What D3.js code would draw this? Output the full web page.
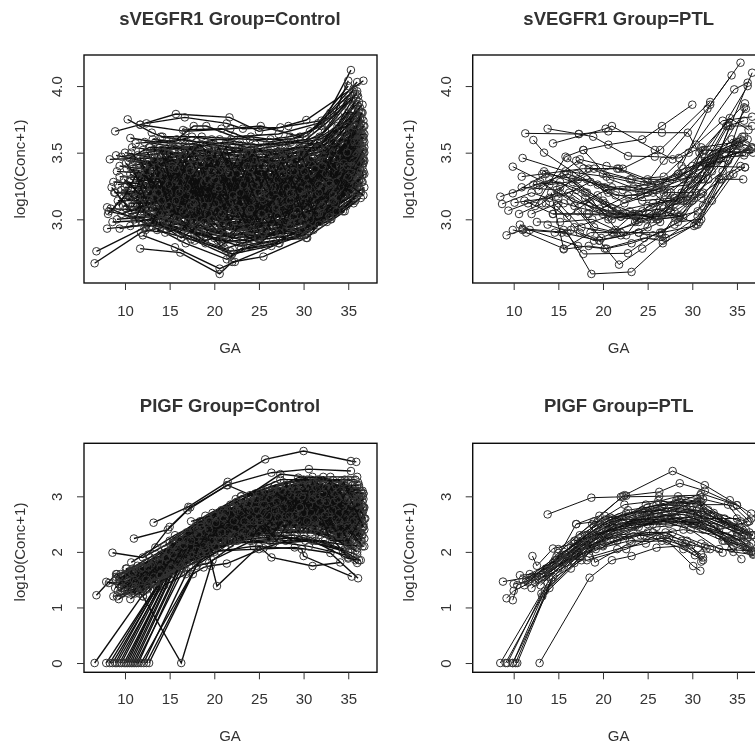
<!DOCTYPE html>
<html>
<head>
<meta charset="utf-8">
<script src="https://cdn.jsdelivr.net/npm/d3@7"></script>
<style>
    html, body {margin: 0; padding: 0; background: #fff; overflow: hidden;}
    text {font-family: "Liberation Sans", Arial, sans-serif; fill: #333;}
</style>
</head>
<body>
<div id="chart"></div>
<script>
// every subject is one flat list: GA, log10(conc+1), GA, log10(conc+1), ...
const sVegfrControl = [
    [6.6,2.67,11.8,2.9,16.5,2.98,21,2.82,26,2.88,31,3.05,35.4,3.32],
    [6.8,2.76,12.2,2.94,17,3.02,22,2.98,27,3.02,32,3.14,36,3.45],
    [11.7,2.78,16.2,2.75,20.6,2.59,22,2.68,25.5,2.72,30.3,2.86,34.6,3.06],
    [12,2.88,15.6,2.79,20.6,2.63,22.3,2.68,27.3,2.82,33.1,3,36.2,3.2],
    [8,3.09,13,2.95,16.8,2.82,21.4,2.7,24,2.8,29.8,2.88,35.2,3.18],
    [8.2,3.06,13.5,2.98,17.4,2.85,21.8,2.76,25.6,2.8,30.2,2.9,35.8,3.14],
    [8,2.93,12.4,2.96,18,2.9,22.8,2.8,26.6,2.84,30.4,2.86,36.6,3.34],
    [9.4,2.93,14,2.98,18.6,2.88,23.2,2.82,27.5,2.9,31.6,2.98,36.4,3.2],
    [9.1,3,13.2,3.02,18.2,2.94,23.8,2.86,28.2,2.92,32.4,3.06,36.5,3.28],
    [8.6,2.98,14.6,3,19.2,2.9,24.6,2.88,29.6,2.9,33.6,3.1,35.5,3.24],
    [10.6,2.95,15,2.96,20,2.86,24.2,2.9,28.8,2.94,32.8,3.1,36.6,3.33],
    [10.2,3.08,15.4,3,20.4,2.92,25.2,2.94,29.2,3,33.2,3.16,36.1,3.26],
    [11,3.02,16,3.04,19.6,2.96,24.8,2.98,30,2.96,34,3.16,36.3,3.38],
    [8.4,3.08,13.8,3.06,19,3.02,23.6,2.92,28.6,3,32.2,3.12,35.6,3.3],
    [9.8,3.1,14.2,3.08,18.4,3.04,22.6,2.94,27,2.96,31.4,3.08,36,3.36],
    [10.4,3.04,15.8,3.1,20.8,3,25.8,3,30.6,3.06,34.4,3.2,36.7,3.44],
    [11.4,3.1,16.6,3.06,21.2,3.02,26.4,3.02,31.2,3.1,35,3.3,36.2,3.34],
    [12.4,3.06,17.2,3.12,22.4,3.04,27.2,3.06,31.8,3.14,35.4,3.38],
    [9.2,3.14,14.8,3.14,19.4,3.08,24.4,3.02,29,3.08,33.4,3.24,36.4,3.48],
    [10.8,3.18,16.2,3.1,21,3.06,25.4,3.08,30.4,3.12,34.2,3.28,36.8,3.5],
    [8.8,3.2,13.4,3.18,18.8,3.12,23.4,3.06,28.4,3.12,32.6,3.22,35.9,3.42],
    [11.2,3.16,15.2,3.2,20.2,3.12,25,3.1,29.4,3.18,33.8,3.3,36,3.54],
    [9.6,3.22,14.4,3.16,19.8,3.1,24,3.12,28,3.14,32,3.26,36.5,3.46],
    [8.9,3.2,12.8,3.22,17.6,3.18,22.2,3.1,26.8,3.1,31,3.22,35.7,3.5],
    [10,3.24,15.6,3.22,20.6,3.16,25.6,3.12,30.8,3.18,34.6,3.34,36.6,3.58],
    [11.6,3.26,16.4,3.18,21.6,3.14,26.2,3.14,31.4,3.22,35.2,3.42,36.7,3.62],
    [12.6,3.2,17.8,3.24,22.8,3.16,27.8,3.16,32.4,3.26,36,3.52],
    [8.7,3.28,13,3.26,18,3.2,23,3.18,27.6,3.2,31.6,3.3,36.2,3.6],
    [10.6,3.3,14.6,3.28,19.2,3.24,24.2,3.16,29.2,3.2,33,3.36,36.3,3.56],
    [9.4,3.32,15,3.3,20,3.22,24.6,3.2,28.8,3.24,32.8,3.32,35.6,3.56],
    [11,3.34,16,3.26,21,3.2,26,3.22,30,3.26,34,3.44,36.8,3.7],
    [9.1,3.36,13.6,3.34,18.6,3.28,23.6,3.22,28.2,3.28,32.2,3.4,36,3.66],
    [10.2,3.38,15.4,3.32,20.4,3.28,25.4,3.26,29.8,3.3,33.6,3.46,36.4,3.72],
    [9.4,3.4,14,3.36,19,3.32,24,3.26,28.6,3.32,32.6,3.44,35.8,3.62],
    [11.8,3.36,16.8,3.38,21.8,3.3,26.6,3.28,30.6,3.34,34.4,3.52,36.6,3.66],
    [12.2,3.42,17,3.34,22,3.32,27,3.3,31,3.36,35,3.56,36.5,3.76],
    [9,3.48,13.2,3.42,18.2,3.36,23.2,3.34,28,3.32,32,3.46,35.6,3.7],
    [10.4,3.44,15,3.4,19.6,3.38,24.8,3.32,29.4,3.38,33.2,3.5,36.2,3.82],
    [8.3,3.45,12.6,3.46,17.4,3.42,22.4,3.36,27.4,3.36,31.2,3.42,36.7,3.74],
    [10,3.5,14.8,3.44,19.8,3.4,25,3.38,30.2,3.4,34.2,3.58,36,3.86],
    [11.4,3.48,16.2,3.5,21.2,3.42,25.8,3.4,30,3.46,33.8,3.62,35.9,3.9],
    [9.6,3.47,14.2,3.52,18.8,3.44,23.8,3.42,28.8,3.44,32.8,3.6,36.1,3.92],
    [10.8,3.54,15.6,3.5,20.8,3.46,25.2,3.44,29.6,3.48,33.4,3.64,35.7,3.86],
    [12,3.52,17.6,3.54,22.6,3.48,27.2,3.46,31.6,3.5,35.2,3.76,36.6,3.86],
    [10.6,3.61,13.4,3.58,18.4,3.56,23.4,3.5,28.4,3.52,32.4,3.66,35.8,3.94],
    [11.2,3.57,16.6,3.6,21.4,3.54,26.2,3.5,30.8,3.56,34.6,3.8,36.4,3.8],
    [14,3.62,18,3.58,22.8,3.56,27.6,3.56,31.8,3.62,35,3.9,36,3.94],
    [10.3,3.75,13,3.65,14.2,3.62,18.6,3.62,23.6,3.6,28.6,3.6,32,3.7,35.3,4.12],
    [8.9,3.66,11.7,3.71,16.8,3.66,21.8,3.68,25.2,3.7,29.6,3.62,33.4,3.78,35,4.04],
    [11.7,3.71,15.7,3.79,21.7,3.765,25,3.66,28.3,3.7,32,3.74,36,4.03],
    [12.4,3.72,16.7,3.765,21.4,3.72,23.2,3.68,27.4,3.69,30.3,3.745,36.7,4.04],
    [15.8,3.6,17.7,3.7,19.1,3.7,22.2,3.62,27.2,3.64,31.6,3.72,35,4],
    [16.5,3.67,20.8,3.68,24,3.6,26.2,3.58,30.2,3.62,34.4,3.86,35.6,3.98],
    [13.2,3.52,18,3.48,22.2,3.44,26.8,3.44,31.2,3.46,34.8,3.6,36.7,3.7],
    [12.8,3.38,17.2,3.44,21.6,3.36,26.4,3.36,30.4,3.42,34,3.54,36.8,3.58],
    [13.6,3.46,18.6,3.42,23,3.4,28.2,3.4,32.2,3.52,35.8,3.76],
    [12.2,3.3,16.4,3.36,20.6,3.34,25,3.3,29,3.36,33,3.42,36.5,3.64],
    [11,3.44,15.2,3.34,19.4,3.3,23.4,3.3,27.8,3.26,32,3.34,35.4,3.6],
    [13,3.14,17.4,3.28,22.2,3.26,26.6,3.24,31,3.3,34.8,3.48,36.6,3.52],
    [12.4,3.24,17,3.16,21.4,3.24,25.8,3.18,30.2,3.22,33.8,3.38,36.3,3.48],
    [13.8,3.28,18.2,3.22,23.2,3.12,27.6,3.14,31.8,3.2,35.2,3.34,36.7,3.42],
    [11.6,3.2,16.2,3.26,21,3.18,25.2,3.16,29.4,3.14,33,3.24,36.1,3.4],
    [12,3.12,16.8,3.14,20.8,3.06,24.6,3.06,28.4,3.08,32.2,3.18,35.8,3.36],
    [13.4,3.16,18.4,3.08,22.6,3.08,27,3.1,30.8,3.04,34.6,3.22,36.4,3.3],
    [10.4,3.12,14.4,3.12,18.8,3,22.8,3,26.6,3.04,30.4,3.02,34.2,3.12,36.8,3.24],
    [11.8,3.06,15.8,2.96,19.6,2.92,23.6,2.96,27.8,2.98,31.6,3.02,35,3.2],
    [12.6,3,16.4,2.92,20.4,2.84,24.4,2.84,28.6,2.88,32.6,2.98,35.6,3.12],
    [13,2.98,17,2.88,21.2,2.78,25,2.86,29,2.92,33.4,3.06,36,3.18],
    [14.2,3.02,18.2,2.9,22.4,2.86,26.2,2.9,30.6,2.94,34.4,3.14,36.6,3.28],
    [13.6,2.92,17.8,2.84,21.8,2.72,23,2.78,27.2,2.82,30,2.88,33,3.02,35.5,3.14],
    [15,2.94,19,2.82,22,2.74,26.4,2.8,28.8,2.9,31.8,2.98,36,3.24],
    [14.6,3.06,19.6,3.02,23.8,2.94,28,2.96,32,3.08,35.2,3.2,36.7,3.36],
    [15.4,3.18,19.8,3.16,24.2,3.06,28.4,3.08,32.4,3.2,35.4,3.46,36.4,3.42],
    [14.8,3.24,19.2,3.2,24.4,3.14,28.6,3.18,32.8,3.28,35.6,3.44,36.8,3.54],
    [15.6,3.12,20,3.1,24.8,3.08,29,3.06,33,3.18,36,3.3],
    [14.4,3.4,19,3.34,23.6,3.28,27.4,3.34,31.4,3.4,34.8,3.66,36.6,3.8],
    [15.2,3.56,19.4,3.5,24,3.48,28,3.5,32,3.58,35,3.8,36.2,3.88],
    [13.8,3.44,18.8,3.52,23.4,3.46,27.8,3.42,31.8,3.54,35.4,3.68,36.7,3.6],
    [14.6,3.3,18.6,3.3,23,3.24,27.2,3.2,31.2,3.28,34.6,3.4,36,3.48],
    [16.2,3.44,20.6,3.4,25,3.34,29,3.34,32.8,3.38,35.8,3.58],
    [16,3.04,20.2,3,24.6,2.96,28.6,3.02,32.6,3.1,35.8,3.26,36.8,3.34],
    [16.6,3.3,21,3.26,25.6,3.24,29.8,3.24,33.6,3.34,36.2,3.52],
    [17,3.1,21.4,2.96,25.8,2.92,29.6,2.96,33.2,3.08,36.4,3.22],
    [17.4,3.52,21.8,3.5,26,3.52,30,3.54,33.8,3.7,36,3.78],
    [10.2,3.26,14,3.22,17.6,3.12,21.6,3.08,25.4,3.04,29.2,3.1,33,3.2,35.6,3.4],
    [9.8,3.16,13.6,3.1,17.2,3.06,21,2.94,24.8,2.9,28.6,2.96,32.2,3.04,35.2,3.28],
    [10.8,3.4,14.6,3.46,18.4,3.5,22.4,3.42,26.2,3.46,30,3.52,33.6,3.56,36.2,3.72],
    [11.4,3.32,15.2,3.36,19,3.26,23,3.2,26.8,3.26,30.6,3.36,34,3.46,36.5,3.68],
    [12.8,3.54,16.6,3.46,20.4,3.52,24.4,3.54,28.2,3.46,32,3.44,35.2,3.66],
    [13.2,3.36,17,3.3,20.8,3.2,24.6,3.24,28.4,3.22,32.2,3.32,35.6,3.52],
    [12,3.18,15.8,3.08,19.8,3.14,23.8,3.04,27.6,3.12,31.4,3.18,35,3.38,36.7,3.5],
    [11.2,2.98,15.4,3.04,19.2,2.98,23.2,2.9,27.2,2.94,31,2.98,34.8,3.1,36.3,3.22],
    [13.4,3.08,17.6,3,21.4,3.04,25.4,2.96,29.2,3.02,33,3,35.8,3.16],
    [10,3.2,14.2,3.04,18.2,3.1,22.2,3.12,26.4,3.06,30.2,3.16,34,3.26,36.4,3.44],
    [10.6,3.34,14.8,3.18,19,3.16,23.2,3.22,27.4,3.18,31.4,3.26,35.2,3.5],
    [9.2,3.26,13,3.3,17.2,3.34,21.2,3.28,25.4,3.36,29.6,3.4,33.4,3.42,36.1,3.6],
    [9.6,3.04,13.4,3.14,17.6,3.2,21.6,3.18,25.8,3.26,30,3.24,33.8,3.36,36.6,3.4],
    [11.6,3.42,15.6,3.42,19.6,3.46,23.6,3.38,27.8,3.5,31.6,3.48,35,3.62,36.8,3.64],
    [12.2,3.58,16,3.54,20,3.56,24,3.52,28,3.56,31.8,3.6,35.4,3.74],
    [13,3.48,16.8,3.56,20.6,3.6,24.6,3.56,28.6,3.58,32.4,3.56,35.6,3.8],
    // more subjects, crossing through the dark band
    [10.9,3.1,13.1,3.28,15.3,3.06,17.5,3.24,19.7,3.04,21.9,3.2,24.1,3,26.3,3.18,28.5,3.04,30.7,3.2,33,3.22,35.3,3.44],
    [11.3,3.46,13.5,3.2,15.7,3.44,17.9,3.18,20.1,3.4,22.3,3.14,24.5,3.36,26.7,3.12,28.9,3.3,31.1,3.12,33.3,3.4,35.7,3.48],
    [10.5,3.28,12.7,3.08,14.9,3.32,17.1,3.02,19.3,3.26,21.5,3,23.7,3.22,25.9,2.98,28.1,3.16,30.3,3,32.6,3.3,35.9,3.38],
    [12.1,3.4,14.3,3.12,16.5,3.38,18.7,3.14,20.9,3.34,23.1,3.06,25.3,3.3,27.5,3.04,29.7,3.34,31.9,3.16,34.1,3.46,36.4,3.64],
    [11.9,2.98,14.1,3.26,16.3,3,18.5,3.3,20.7,2.98,22.9,3.26,25.1,2.94,27.3,3.28,29.5,3.02,31.7,3.36,33.9,3.24,36.2,3.5],
    [12.5,3.5,14.7,3.26,16.9,3.52,19.1,3.22,21.3,3.46,23.5,3.16,25.7,3.44,27.9,3.22,30.1,3.46,32.3,3.24,34.5,3.56,36.5,3.54],
    [10.7,3.5,12.9,3.34,15.1,3.12,17.3,3.46,19.5,3.12,21.7,3.42,23.9,3.1,26.1,3.4,28.3,3.08,30.5,3.44,32.7,3.14,35.1,3.54],
    [11.5,3.08,13.7,3.4,15.9,3.2,18.1,3.04,20.3,3.3,22.5,3.02,24.7,3.28,26.9,2.96,29.1,3.2,31.3,3.06,33.5,3.3,35.5,3.3],
    [12.3,3.14,14.5,3.44,16.7,3.1,18.9,3.44,21.1,3.1,23.3,3.42,25.5,3.08,27.7,3.42,29.9,3.12,32.1,3.48,34.3,3.34,36.3,3.76],
    [13.1,3.34,15.3,3.5,17.5,3.32,19.7,3.54,21.9,3.24,24.1,3.46,26.3,3.2,28.5,3.46,30.7,3.28,32.9,3.5,35.1,3.48],
    [13.5,3.02,15.7,3.22,17.9,2.96,20.1,3.2,22.3,2.92,24.5,3.16,26.7,2.88,28.9,3.12,31.1,2.92,33.3,3.22,35.3,3.22],
    [13.9,3.54,16.1,3.4,18.3,3.56,20.5,3.44,22.7,3.54,24.9,3.42,27.1,3.54,29.3,3.42,31.5,3.58,33.7,3.48,36,3.7],
    [14.3,3.1,16.5,3.3,18.7,3.08,20.9,2.9,23.1,3.12,25.3,2.88,27.5,3.08,29.7,2.96,31.9,3.12,34.1,3.3,36.6,3.42],
    [14.7,3.36,16.9,3.08,19.1,3.36,21.3,3.14,23.5,3.32,25.7,3.16,27.9,3.3,30.1,3.08,32.3,3.34,34.5,3.28,36.7,3.46],
    [15.1,3.48,17.3,3.16,19.5,3.5,21.7,3.26,23.9,3.5,26.1,3.3,28.3,3.48,30.5,3.3,32.7,3.5,35,3.42],
    [10.1,3.42,12.3,3.24,14.5,3.5,16.7,3.22,18.9,3.18,21.1,3.5,23.3,3.04,25.5,3.26,27.7,3.38,29.9,3.16,32.1,3.1,34.7,3.3,36.2,3.28],
    [10.3,3.14,12.5,3.36,14.7,3.08,16.9,3.42,19.1,3.06,21.3,3.08,23.5,3.36,25.7,3.34,27.9,3.06,30.1,3.26,32.3,3.38,34.9,3.6],
    [11.1,3.22,13.3,3.46,15.5,3.28,17.7,3.08,19.9,3.34,22.1,3.42,24.3,3.14,26.5,3.06,28.7,3.4,30.9,3.36,33.1,3.28,35.5,3.54],
    [11.7,3.3,13.9,3.04,16.1,3.16,18.3,3.36,20.5,3.08,22.7,3.28,24.9,3.4,27.1,3.24,29.3,3.12,31.5,3.14,33.7,3.46,36.1,3.68],
    [12.9,3.24,15.1,3.02,17.3,3.26,19.5,2.94,21.7,3.12,23.9,3.34,26.1,3.1,28.3,3.26,30.5,3.18,32.7,3.2,35,3.28,36.8,3.44],
    [13.3,3.12,15.5,3.36,17.7,3.04,19.9,3.28,22.1,3.22,24.3,3.24,26.5,3.34,28.7,3.1,30.9,3.42,33.1,3.36,35.4,3.54],
    [15.5,3.28,17.7,3.4,19.9,3.18,22.1,3.36,24.3,3.18,26.5,3.12,28.7,3.3,30.9,3.16,33.1,3.14,35.6,3.34],
    [15.9,3.14,18.1,3.18,20.3,3.42,22.5,3.22,24.7,3.12,26.9,3.32,29.1,3.44,31.3,3.26,33.5,3.54,35.8,3.64],
    [16.3,3.52,18.5,3.24,20.7,3.14,22.9,3.42,25.1,3.52,27.3,3.38,29.5,3.22,31.7,3.42,33.9,3.62,36.3,3.84],
    [9.9,3.3,12.1,3.16,14.3,3.24,16.5,3.12,18.7,3.26,20.9,3.22,23.1,3.28,25.3,3.18,27.5,3.28,29.7,3.22,31.9,3.28,34.2,3.38,36.5,3.5],
    [9.3,3.1,11.5,3.36,13.7,3.24,15.9,3.34,18.1,3.12,20.3,3.06,22.5,3.2,24.7,3.1,26.9,3.04,29.1,3.28,31.3,3.3,33.5,3.2,36,3.6],
    [8.5,3.24,10.7,3.06,12.9,3.12,15.1,3.28,17.3,2.96,19.5,3.08,21.7,2.86,23.9,3.02,26.1,3.12,28.3,2.94,30.5,3.12,32.8,3.26,35.7,3.6],
    [8.1,3.04,10.3,3.2,12.5,3.04,14.7,2.92,16.9,3.18,19.1,2.92,21.3,2.88,23.5,2.96,25.7,3,27.9,3.06,30.1,2.98,32.4,3.02,35.4,3.26],
    [12.7,2.94,14.9,3.2,17.1,3.4,19.3,3.4,21.5,3.36,23.7,3.44,25.9,3.26,28.1,3.04,30.3,3.1,32.5,3.42,35.2,3.58],
    [14.9,3.16,17.1,2.98,19.3,3.18,21.5,3.44,23.7,2.98,25.9,3.06,28.1,3.36,30.3,3.48,32.5,3.52,34.9,3.7],
    [13.7,3.3,15.9,3.46,18.1,3.28,20.3,3.5,22.5,3.4,24.7,3.46,26.9,3.4,29.1,3.5,31.3,3.52,33.5,3.66,36.1,3.74],
    [11.9,3.44,14.1,3.42,16.3,3.46,18.5,3.48,20.7,3.48,22.9,3.52,25.1,3.46,27.3,3.5,29.5,3.54,31.7,3.54,33.9,3.72,36,3.96],
    [10.5,3.46,12.7,3.54,14.9,3.54,17.1,3.52,19.3,3.56,21.5,3.58,23.7,3.54,25.9,3.56,28.1,3.58,30.3,3.6,32.5,3.72,35.3,3.9],
    [13.1,3.6,15.3,3.58,17.5,3.62,19.7,3.6,21.9,3.6,24.1,3.62,26.3,3.6,28.5,3.62,30.7,3.66,33,3.8,35.5,3.96],
    [12.3,2.92,14.5,2.9,16.7,2.94,18.9,2.84,21.1,2.88,23.3,2.84,25.5,2.9,27.7,2.86,29.9,2.92,32.1,3.04,34.4,3.06,36.4,3.16],
    [14.1,2.96,16.3,2.86,18.5,2.96,20.7,2.8,22.9,2.9,25.1,2.82,27.3,2.94,29.5,2.88,31.7,3.04,33.9,3.16,36.2,3.3],
    [15.3,3.06,17.5,2.92,19.7,3.06,21.9,2.94,24.1,2.96,26.3,2.98,28.5,2.94,30.7,3,32.9,3.02,35.1,3.26,36.7,3.18],
    [16.1,2.9,18.3,3.06,20.5,2.9,22.7,3.06,24.9,2.86,27.1,3.02,29.3,3.1,31.5,3.04,33.7,3.12,36,3.42],
    [11.3,3.16,12.9,3.42,14.6,3.18,16.2,3.44,17.8,3.2,19.4,3.46,21,3.24,22.6,3.46,24.2,3.22,25.8,3.48,27.4,3.2,29,3.44,30.6,3.2,32.2,3.44,33.8,3.34,35.4,3.68],
    [11.7,3.46,13.3,3.16,14.9,3.38,16.5,3.06,18.1,3.34,19.7,3,21.3,3.3,22.9,2.98,24.5,3.26,26.1,2.94,27.7,3.24,29.3,2.98,30.9,3.3,32.5,3.12,34.1,3.4,35.9,3.5],
    [12.1,3.06,13.7,3.34,15.3,3.02,16.9,3.32,18.5,3,20.1,3.3,21.7,2.96,23.3,3.24,24.9,3,26.5,3.24,28.1,2.98,29.7,3.3,31.3,3.04,32.9,3.34,34.5,3.18,36.3,3.42],
    [12.5,3.36,14.1,3.52,15.7,3.3,17.3,3.54,18.9,3.34,20.5,3.54,22.1,3.3,23.7,3.5,25.3,3.28,26.9,3.5,28.5,3.3,30.1,3.54,31.7,3.32,33.3,3.58,34.9,3.5,36.5,3.8],
    [12.9,3.2,14.5,3.04,16.1,3.28,17.7,2.98,19.3,3.22,20.9,2.96,22.5,3.24,24.1,2.92,25.7,3.18,27.3,2.9,28.9,3.2,30.5,2.94,32.1,3.22,33.7,3.06,35.3,3.38],
    [13.3,3.44,14.9,3.1,16.5,3.22,18.1,3.46,19.7,3.1,21.3,3.36,22.9,3.12,24.5,3.44,26.1,3.02,27.7,3.34,29.3,3.06,30.9,3.24,32.5,3.44,34.1,3.24,35.7,3.7],
    [11.1,3,12.7,3.2,14.3,3.32,15.9,3,17.5,3.12,19.1,3.32,20.7,3.02,22.3,3.3,23.9,3.06,25.5,3.14,27.1,3.3,28.7,3.18,30.3,3.32,31.9,3.08,33.5,3.12,35.3,3.3],
    [13.7,3.2,15.3,3.4,16.9,3.18,18.5,3.14,20.1,3.48,21.7,3.12,23.3,3.48,24.9,3.2,26.5,3.44,28.1,3.14,29.7,3.5,31.3,3.18,32.9,3.28,34.5,3.42,36.2,3.56],
    [14.1,3.5,15.7,3.14,17.3,3.1,18.9,3.28,20.5,3.22,22.1,3.06,23.7,3.3,25.3,3.04,26.9,3.16,28.5,3.36,30.1,3.02,31.7,3.26,33.3,3.5,34.9,3.5,36.6,3.62],
    [14.5,2.98,16.1,3.08,17.7,3.34,19.3,3.04,20.9,3.04,22.5,3.34,24.1,3.08,25.7,2.92,27.3,3.12,28.9,3.02,30.5,3.06,32.1,3.1,33.7,3.22,35.3,3.36],
    [14.9,3.26,16.5,3.48,18.1,3.14,19.7,3.36,21.3,3.54,22.9,3.2,24.5,3.52,26.1,3.24,27.7,3.46,29.3,3.3,30.9,3.46,32.5,3.34,34.1,3.6,35.7,3.58],
    [15.3,3.38,16.9,3.24,18.5,3.42,20.1,3.12,21.7,3.34,23.3,3.26,24.9,3.3,26.5,3.4,28.1,3.24,29.7,3.4,31.3,3.38,32.9,3.26,34.5,3.38,36.1,3.58],
    [15.7,3,17.3,3.38,18.9,2.98,20.5,3.24,22.1,3.14,23.7,2.94,25.3,3.16,26.9,3.1,28.5,3.14,30.1,3.18,31.7,2.96,33.3,3.14,35,3.32,36.7,3.52],
    [16.1,3.2,17.7,3.12,19.3,3.3,20.9,3.38,22.5,3.08,24.1,3.38,25.7,3.22,27.3,3.14,28.9,3.36,30.5,3.24,32.1,3.4,33.7,3.28,35.4,3.4],
    [10.9,3.38,12.5,3.12,14.1,3.14,15.7,3.38,17.3,3.36,18.9,3.1,20.5,3.36,22.1,3.18,23.7,3.4,25.3,3.4,26.9,3.08,28.5,3.2,30.1,3.36,31.7,3.2,33.3,3.18,34.9,3.4,36.4,3.36]
];

const sVegfrPTL = [
    [8.5,3.17,12.6,3.26,16,3.34,20.2,3.24,25,3.2,29,3.3,33,3.46,36.7,3.53],
    [8.7,3.115,12,3.2,15.6,3.12,20,3.04,24,3.04,28,3.16,32,3.42,35.8,3.62],
    [9.9,3.195,13.6,3.34,17.2,3.3,21,3.24,25.4,3.26,29.6,3.36,33,3.5,36,3.56],
    [9.4,3.065,11.6,3.12,15,3.2,18.4,3.1,22,3.02,26.6,3.04,30.6,3.3,34,3.7,35.8,3.74],
    [10.1,3.125,14,3.16,17,3.22,21.6,3.06,25.6,3.12,28.8,3.14,31,3.44,35,3.58],
    [9.2,2.88,11,2.92,15.4,2.9,19.6,2.84,24,2.9,27,2.86,30.4,2.96,33,3.3,35.7,3.3],
    [9.9,2.92,11.4,2.9,15.6,2.78,18.6,2.9,22,2.9,26.6,2.9,30.2,2.95,32.2,3.14,35.6,3.5],
    [10.7,2.96,11.8,2.92,17.2,2.8,20.2,2.78,24.6,2.86,26.7,2.84,30.6,3.02,34.2,3.33],
    [11,2.93,16,2.9,18.7,2.59,23.2,2.605,26.7,2.82,30.8,2.98,34.6,3.34,35.9,3.39],
    [11.3,3.645,17.3,3.64,20.6,3.66,26.6,3.65,29.5,3.65,31.4,3.42,33.8,3.7,36.7,3.7],
    [13.8,3.68,17.3,3.64,18.9,3.62,22.8,3.475,25.8,3.47,28.5,3.46,31,3.54,35,3.58],
    [12.2,3.595,13.4,3.5,17,3.34,20.6,3.2,24.4,3.14,28,3.16,31.2,3.3,35.2,3.56],
    [14.4,3.57,20.3,3.68,21,3.7,25.8,3.52,27.8,3.45,30.4,3.56,33.4,3.74,36.7,3.77],
    [11,3.46,15.8,3.36,20.4,3.32,24.6,3.26,28.4,3.34,31.4,3.52,34.2,3.76,36.3,3.67],
    [9.9,3.395,14,3.26,18.2,3.3,22.2,3.22,26,3.22,28.8,3.4,32,3.86,34.4,4.08],
    [10.9,3.32,13.2,3.34,17.8,3.38,21.6,3.38,25,3.28,26.8,3.44,31.7,3.83,35.4,4.175],
    [10.9,3.24,14.8,3.22,19,3.38,23.2,3.3,26.8,3.32,29.6,3.5,34.7,3.975,36.2,4.025],
    [12.4,3.1,15.8,3.47,17.8,3.52,20.6,3.56,24.4,3.6,26.6,3.7,30,3.86],
    [12.8,3.22,17.4,3.45,20.4,3.4,22.2,3.38,26.4,3.52,32,3.88],
    [10.6,3.04,13.2,3.12,16.6,3.3,20.2,3.12,24,2.98,27.6,3.06,30.8,3.5,35.9,3.87],
    [11.2,3.14,14.4,3.04,18.4,3.04,22,3.02,25.2,3.04,29,3.02,31.8,3.3,36.7,4.1],
    [12.6,2.98,15.2,2.98,18.8,3,21.4,2.92,25.4,3,27.6,3.2,30.8,3.4,36.2,4],
    [13,3.28,16.4,3.14,19.6,3.08,22.6,3.04,25.8,3.02,28.2,3.14,31,3.3,36,3.83],
    [12.2,3.26,15.2,3.28,18.6,3.12,21.2,3.04,24.8,3,27.4,3.1,29.4,3.14,31.2,3.2,35.4,3.4],
    [13.4,3.36,16.6,3.28,20,3.14,23,3.06,26,3,28.6,3.02,30,3.14,31,3.19],
    [14,3.3,18.2,3.2,21.8,3.04,24.4,3.06,26.8,3.08,28.8,3.2,31.6,3.4,35.9,3.39],
    [14.8,3.1,17.4,2.9,19.6,2.84,21.8,2.66,24.4,2.78,26.6,2.88,28,3.02,30.2,3.16,34.8,3.56],
    [13.8,2.96,15.6,2.92,17.8,2.74,22.8,2.745,25.6,2.88,28.4,2.98,31,3,33.2,3.3],
    [14.4,3.04,18.2,3.04,22,3.04,25.8,3.02,28.6,3.03,31,3.16,35,3.5],
    [14.2,3.2,15.6,2.775,18.4,2.8,20.4,2.78,23.2,2.82,26.4,2.9,28,2.96,31.2,3.1,35.4,3.6],
    [15.2,3.24,19,2.94,21.6,2.9,24,2.9,26.4,2.98,29,3.14,31.6,3.36,34.4,3.6,36.6,3.54],
    [15.6,3.34,18,3.2,20.6,3,22,2.88,25,2.94,26.8,3.2,29.6,3.3,32,3.5,35.6,3.62],
    [16,3.46,19.4,3.26,21.4,3.18,24.2,3.18,27,3.28,30.2,3.32,33,3.46,36.4,3.52],
    [17.8,3.52,20.8,3.3,24,3.22,26.2,3.26,29,3.38,32.6,3.44,36.7,3.54],
    [17,3.44,20,3.34,23,3.3,26,3.26,28.8,3.32,31.4,3.46,35,3.56],
    [18.4,3.38,21.8,3.38,25,3.3,27.8,3.3,30.8,3.4,34,3.44],
    [16.8,3.1,20.4,3.22,23.4,3.24,27.2,3.2,30.4,3.2,33.4,3.36,35.8,3.84],
    [18,3.16,21,3,23.6,3.04,26.4,3.14,28.2,3.14,31.2,3.52,36.8,3.5],
    [15,3.16,18.6,3.28,22.4,3.12,26.8,3.22,30,3.4,33.6,3.5,36,3.5],
    [16.2,3.2,19.2,3.06,22.8,3.18,25.6,3.2,28,3.06,29.4,3.12,32.8,3.46,35.8,3.48],
    [17.2,3.06,19.8,2.86,21.2,2.9,23.6,2.98,26,3.08,28.6,3.02,30.6,2.96],
    [14.6,2.9,16.4,2.92,19,2.84,22.6,2.88,25,3.1,27.4,3.14,30,3.18,32.4,3.48],
    [13.6,3.12,16,3.02,19.4,3.18,21,3.08,24.8,3.2,27,3.24,29.8,3.26,33,3.52,36.2,3.6],
    [12,3.04,15,3.12,17.6,2.94,21,2.9,23.4,3.04,26.2,3,28.4,3.02,30.6,3.06,35,3.5],
    [16.8,2.94,20.6,3.02,23.8,3,26.2,3.02,29,3.16,32.2,3.36,34.2,3.7]
];

const plgfControl = [
    // subjects that start below the detection limit
    [6.6,0,12.4,1.32,16,1.95,20,2.4,25,2.7,30,2.75,35,2.5],
    [7.9,0,13.2,1.3,16.6,1.9,21,2.5,26,2.8,30.4,2.9,35.6,2.7],
    [8.3,0,13.8,1.45,16.8,2,21.4,2.35,25.6,2.6,31,2.6,36,2.3],
    [8.6,0,13.6,1.35,17,2.1,22,2.6,26.4,3,31.4,3,35.2,2.9],
    [8.9,0,14,1.5,17.4,1.95,20.6,2.4,25.2,2.5,29.6,2.6,35.4,2.2],
    [9.1,0,14.2,1.45,18,2.1,22.4,2.6,27,2.85,31.6,2.8,36.4,2.6],
    [9.4,0,14.4,1.55,17.6,1.85,21.6,2.3,26.2,2.5,30.6,2.45,35,2.1],
    [9.6,0,14.6,1.55,18.2,2.25,23,2.7,27.6,2.95,32,3.1,36.2,3],
    [9.9,0,14.4,1.4,16.8,1.6,20.2,2.1,24.6,2.3,29,2.3,34.6,2.05],
    [10.1,0,15,1.6,19,2.2,23.4,2.55,28,2.7,32.4,2.7,36.5,2.4],
    [10.3,0,15.4,1.75,18.6,2.2,22.6,2.5,27.2,2.65,31.8,2.5,35.8,2.35],
    [10.5,0,15.2,1.6,19.4,2.05,24,2.35,28.4,2.4,32.8,2.3,36,2],
    [10.7,0,15.6,1.7,19.8,2.3,24.4,2.7,29,2.95,33,2.85,36.6,2.8],
    [10.9,0,15.8,1.65,20,2.45,24.8,2.8,29.4,3.05,33.4,3.1,36.3,2.65],
    [11.1,0,16.2,1.75,20.4,2.2,25,2.45,29.8,2.5,33.8,2.4,35.6,2.15],
    [11.3,0,16.6,1.7,20.8,2.15,25.4,2.6,30,2.65,34,2.6,36.7,2.8],
    [11.5,0,16.4,1.75,21,2.5,25.8,2.85,30.2,2.95,34.4,2.75,36.1,2.5],
    [12.1,0,17,1.65,21.2,2.1,26,2.4,30.8,2.35,34.8,2.15],
    [12.7,0,17.6,1.6,18.8,1.72,19.6,1.75,21.4,1.79,25.5,2.065,30,2.3,35,2],
    [12.4,0,18,1.75,19.4,1.8,23.6,2.3,28,2.2,32.4,2.2,35.8,1.85],
    [11.8,0,18.2,1.8,22.6,2.4,26.8,2.7,31.2,2.7,35.4,2.45],
    [12,1.2,16.3,0,19.8,1.85,24.2,2.2,28.6,2.25,33,2.1,36,1.95],
    // detected from the first visit
    [6.8,1.22,9,1.6,13,1.75,17.6,2.2,22.2,2.5,27,2.65,31.6,2.55,36.3,2.35],
    [7.9,1.46,11,1.35,14.6,1.7,19,2,23.8,2.35,28.2,2.4,32.6,2.35,35,1.9],
    [8.2,1.44,12,1.5,15.8,1.85,20,2.3,24.6,2.6,29.2,2.75,33.2,2.6,36.7,2.45],
    [8.6,1.985,12,1.9,15.4,2.2,19.6,2.5,24,2.85,28.6,3.05,33,3.05,36.5,3.05],
    [10.7,1.81,13.4,2.08,15.6,2.3,18.6,2.55,23.2,2.95,27.4,3.4,33.3,3.29,36.7,3.05],
    [11,2.24,14.8,2.4,17,2.75,21.4,3.2,26.4,3.425,30.6,3.49,35.3,3.455],
    [13.2,2.525,17.1,2.81,21.5,3.26,25.7,3.665,30,3.815,35.3,3.635,35.9,3.62],
    [12.6,1.95,15,2.45,17.3,2.8,21.5,3.2,24.4,3,29.4,3.335,33,3.35,36,3.35],
    [9,1.55,12.8,1.9,16.2,2.2,20.8,2.72,23,3,27.8,3.25,31.6,3.3,35.8,3.3],
    [9.1,1.2,11.4,1.3,12,1.2,15.2,1.7,19.2,2.1,20.3,1.385,25,2.1,26.4,1.9,31,1.745,34.1,1.81],
    [9.3,1.15,13,1.5,16,1.75,20,2,24.4,2.1,29.8,2.05,30,1.925,35.4,1.555],
    [8.7,1.2,12.6,1.35,16.4,1.7,20.6,2.02,25,2.05,29,2.08,33,1.98,36.1,1.525],
    [9.4,1.5,13.4,1.65,17.2,2,21.2,2.28,25.6,2.35,30.2,2.2,34.4,2.02,36.2,1.85],
    [9.6,1.35,13.6,1.55,17.8,1.95,21.8,2.15,26.2,2.2,30.6,2.1,34.6,1.95,36,1.8],
    [10.6,1.15,14.2,1.58,18,1.9,22.4,2.2,26.6,2.15,31,2.2,35,1.88,36.4,1.85],
    [9.8,1.45,14,1.7,18.4,2.15,22.8,2.45,27.4,2.75,32,2.9,36,2.9],
    [10,1.6,14.4,1.95,18.8,2.3,23,2.65,27.8,2.9,32.2,3.1,36.6,3],
    [10.2,1.7,13.8,1.85,17.4,2.25,21.8,2.65,26.4,3.05,30.8,3.3,35,3.25],
    [10.4,1.25,14.6,1.75,19,2.05,23.4,2.42,28,2.55,32.6,2.5,36.8,2.24],
    [10.8,1.55,15,1.85,19.2,2.35,23.6,2.75,28.2,3.1,32.8,3.2,36.2,3.2],
    [11.2,1.4,15.4,1.85,19.6,2.2,24,2.55,28.4,2.65,33,2.6,36.6,2.55],
    [11.4,1.75,15.6,2.05,20,2.4,24.4,2.7,28.8,2.8,33.4,2.75,36.7,2.81],
    [11.6,1.25,15.8,1.78,20.2,2.1,24.6,2.38,29,2.6,33.6,2.25,36,2.1],
    [11.8,1.6,16,1.95,20.4,2.55,24.8,2.9,29.2,3.2,33.8,3.2,36.4,3.1],
    [12,1.5,16.2,2,20.6,2.35,25,2.65,29.6,2.85,34,2.9,36.5,2.7],
    [12.2,1.4,16.4,1.9,20.8,2.25,25.2,2.5,29.8,2.6,34.2,2.35,36.8,2.4],
    [12.4,1.65,16.6,2.1,21,2.45,25.4,2.85,30,3.15,34.4,3.05,36.2,2.95],
    [12.6,1.7,16.8,2.2,21.2,2.6,25.6,3,30.2,3.25,34.6,3.3,36.1,3.25],
    [9.2,1.3,12.6,1.6,16.6,1.85,20.4,2.25,24.2,2.55,28.6,2.6,32.8,2.45,35.6,2.5],
    [9.5,1.6,12.8,1.65,16.8,2.05,21,2.4,24.8,2.75,29.2,2.9,33.2,2.95,35.8,2.8],
    [9.7,1.25,13,1.45,17,1.85,21.4,2.32,25.2,2.4,29.6,2.45,33.6,2.25,36,2.45],
    [9.9,1.5,13.2,1.8,17.2,2.15,21.6,2.55,25.6,2.95,30,3.1,34,3.15,36.2,3.15],
    [10.1,1.4,13.4,1.72,17.4,2.3,21.8,2.7,26,2.55,30.4,2.85,34.4,2.7,36.4,2.65],
    [10.3,1.55,13.6,1.6,17.6,2.1,22,2.35,26.4,2.65,30.8,2.55,34.8,2.4,36.6,2.9],
    [10.5,1.65,13.8,1.9,17.8,2.35,22.2,2.8,26.8,3.1,31.2,3.15,35.2,3.1,36.7,2.75],
    [10.7,1.3,14,1.68,18,2.02,22.4,2.3,27.2,2.35,31.6,2.35,35.4,2.2],
    [10.9,1.45,14.2,1.6,18.2,2.25,22.6,2.6,27.6,2.8,32,2.95,35.6,2.6],
    [11.1,1.6,14.4,1.9,18.4,2.4,22.8,2.45,28,2.95,32.4,3.25,35.8,3.1],
    [11.3,1.5,14.6,1.8,18.6,2.05,23,2.25,28.4,2.5,32.8,2.45,36,2.2],
    [11.5,1.35,14.8,1.65,18.8,2.2,23.2,2.5,28.8,2.7,33.2,2.65,36.2,2.85],
    [11.7,1.7,15,1.95,19,2.45,23.4,2.85,29.2,3,33.6,2.95,36.4,2.35],
    [11.9,1.55,15.2,1.75,19.2,2.15,23.6,2.6,29.6,3.1,34,3.2,36.6,3.1],
    [12.1,1.45,15.4,1.95,19.4,2.32,23.8,2.4,30,2.7,34.4,2.5,36.8,2.6],
    [12.3,1.8,15.6,2.15,19.6,2.6,24,2.95,30.4,3.3,34.8,2.85,36.5,2.55],
    [9,1.5,14.2,1.8,18.2,2.18,21.6,2.45,26,2.75,30,3,33,2.9,36,2.7],
    [9.3,1.42,14.6,1.62,18.6,2,22.4,2.55,27,2.6,30.6,2.75,33.6,2.55,35.2,2.3],
    [10,1.3,15,1.7,17,1.98,22,2.28,26.6,2.45,31,2.5,34,2.28,35.8,2.02],
    [10.4,1.48,15.2,2,19.4,2.5,23.8,2.65,27.6,3.05,31.4,2.98,34.6,3.2,36.3,2.95],
    [11,1.65,13.8,1.78,16.4,2.02,20.6,2.62,25.4,2.95,29.4,3.18,32.2,3.35,35.2,3.05],
    [11.6,1.42,14.2,1.7,16,1.85,21.2,2.35,24,2.48,28.4,2.85,32.6,2.8,36.1,2.55],
    [13,1.5,16.4,1.95,20,2.2,23.2,2.6,27.2,2.95,30.4,3.2,33.4,3,36.4,2.2],
    [13.4,1.85,17.6,2.4,20.6,2.5,24.6,3.05,28.6,3.2,31.6,3.2,34.8,3.1,36.7,3.05],
    [14,1.95,18,2.5,21.8,2.85,26,3.15,30,3.3,33.2,3.15,36,3.2],
    [14.4,2.1,18.4,2.55,22.4,2.95,26.8,3.2,31,3.35,34.2,3.28],
    [15,2.2,19,2.65,23,3,27.4,3.3,31.8,3.3,35,3.3],
    [15.6,2.15,19.8,2.7,24,3.02,28,3.15,32,3.05,35.6,2.95],
    [16.2,1.9,20.4,2.3,24.8,2.5,28.8,2.6,32.8,2.75,36.6,2.1],
    [16.6,2.3,20.8,2.75,25,2.9,29.4,2.98,33.4,2.7,36.2,2.3],
    [17.4,2.55,21.6,2.75,25.8,3.05,30.2,3.1,34,2.95,36.7,2.5],
    [18,2.3,22,2.5,26.4,2.8,30.8,2.85,34.6,2.6,36.5,2.3],
    [18.6,2.05,22.6,2.2,27,2.28,31.4,2.2,35,2.12,36.8,2.1],
    [19.2,2.5,23.2,2.65,27.6,2.55,32,2.6,35.4,2.45,36.6,2.3],
    [20,2.65,24.2,2.85,28.2,2.75,32.4,2.95,35.8,2.75],
    // more subjects, crossing through the dark band
    [9.5,1.3,11.5,1.7,13.5,1.5,15.5,2,17.5,1.85,19.5,2.45,21.5,2.2,23.5,2.8,25.5,2.4,27.5,3,29.5,2.5,31.5,3.15,33.5,2.4,35.5,3],
    [10.1,1.7,12.1,1.35,14.1,1.85,16.1,1.75,18.1,2.35,20.1,2.1,22.1,2.7,24.1,2.3,26.1,2.95,28.1,2.35,30.1,3.1,32.1,2.4,34.1,3.05,36.1,2.3],
    [10.5,1.45,12.5,1.8,14.5,1.6,16.5,2.2,18.5,1.95,20.5,2.6,22.5,2.25,24.5,2.9,26.5,2.5,28.5,3.1,30.5,2.6,32.5,3,34.5,2.3,36.5,2.85],
    [9.1,1.6,11.1,1.25,13.1,1.75,15.1,1.65,17.1,2.25,19.1,2,21.1,2.65,23.1,2.35,25.1,2.8,27.1,2.4,29.1,2.9,31.1,2.4,33.1,2.85,35.1,2.15],
    [11,1.3,13,1.7,15,1.75,17,2.3,19,2.05,21,2.55,23,2.25,25,2.95,27,2.5,29,3.1,31,2.7,33,3.1,35,2.6],
    [11.4,1.6,13.4,1.45,15.4,2.1,17.4,2.05,19.4,2.55,21.4,2.3,23.4,2.85,25.4,2.6,27.4,3.15,29.4,2.55,31.4,3.05,33.4,2.35,35.4,2.95],
    [8.9,1.35,10.9,1.7,12.9,1.55,14.9,1.95,16.9,1.8,18.9,2.4,20.9,2.2,22.9,2.8,24.9,2.35,26.9,2.95,28.9,2.45,30.9,3.2,32.9,2.65,34.9,3.15,36.9,2.6],
    [12.5,1.4,14.5,2.05,16.5,2,18.5,2.5,20.5,2.45,22.5,2.85,24.5,2.6,26.5,3.05,28.5,2.75,30.5,3.05,32.5,2.55,34.5,2.95,36.5,2.2],
    [12.9,1.75,14.9,1.7,16.9,2.35,18.9,2.3,20.9,2.7,22.9,2.5,24.9,3,26.9,2.7,28.9,3.2,30.9,2.95,32.9,3.25,34.9,2.5,36.4,3],
    [13.3,1.55,15.3,2.15,17.3,1.95,19.3,2.6,21.3,2.4,23.3,2.95,25.3,2.7,27.3,3.1,29.3,2.35,31.3,2.9,33.3,2.5,35.3,2.75],
    [13.7,1.7,15.7,1.9,17.7,2.4,19.7,2.15,21.7,2.8,23.7,2.55,25.7,3.1,27.7,2.55,29.7,2.95,31.7,2.3,33.7,3.05,35.7,2.4],
    [14.1,1.8,16.1,2.25,18.1,2.2,20.1,2.65,22.1,2.45,24.1,2.9,26.1,2.6,28.1,3.2,30.1,2.85,32.1,3.2,34.1,2.45,36.3,2.75],
    [14.5,1.9,16.5,2.1,18.5,2.45,20.5,2.2,22.5,2.9,24.5,2.5,26.5,2.9,28.5,2.5,30.5,3.2,32.5,2.85,34.5,3.25,36.6,2.45],
    [15.1,1.85,17.1,2.35,19.1,2.3,21.1,2.75,23.1,2.55,25.1,3.05,27.1,2.8,29.1,3.1,31.1,2.5,33.1,2.95,35.1,2.55],
    [15.5,2,17.5,2.05,19.5,2.55,21.5,2.5,23.5,2.7,25.5,2.55,27.5,2.95,29.5,2.75,31.5,3.25,33.5,2.8,35.5,3.2],
    [16.1,2.2,18.1,2.4,20.1,2.35,22.1,2.8,24.1,2.6,26.1,3.1,28.1,2.6,30.1,3,32.1,2.6,34.1,3.1,36.2,2.55],
    [16.7,2,18.7,2.4,20.7,2.6,22.7,2.4,24.7,2.95,26.7,2.6,28.7,3.05,30.7,2.6,32.7,3.05,34.7,2.7,36.7,2.95],
    [17.3,2.15,19.3,2.3,21.3,2.7,23.3,2.75,25.3,2.55,27.3,3.15,29.3,2.8,31.3,2.45,33.3,2.85,35.3,2.35],
    [17.9,2.2,19.9,2.5,21.9,2.4,23.9,2.9,25.9,2.75,27.9,2.45,29.9,3.2,31.9,2.7,33.9,2.3,36,2.95],
    [18.5,2.45,20.5,2.3,22.5,2.75,24.5,2.45,26.5,3.1,28.5,2.9,30.5,2.4,32.5,3.15,34.5,2.55,36.4,2.15],
    [19.1,2.3,21.1,2.6,23.1,2.45,25.1,2.75,27.1,2.4,29.1,3.15,31.1,2.85,33.1,2.4,35.1,2.85],
    [9.3,1.55,10.3,1.4,11.3,1.65,12.3,1.55,13.3,1.8,14.3,1.65,15.3,1.95,16.3,1.85,18.3,2.3,20.3,2.3,24.3,2.6,28.3,2.85,32.3,2.85,36.3,2.5],
    [9.7,1.55,10.7,1.65,11.7,1.4,12.7,1.65,13.7,1.55,14.7,1.9,15.7,1.8,16.7,2.05,18.7,2.15,22.7,2.7,26.7,2.4,30.7,3.1,34.7,2.9],
    [10.3,1.3,11.3,1.55,12.3,1.65,13.3,1.45,14.3,1.75,15.3,1.7,16.3,2.1,17.3,2.1,19.3,2.45,23.3,2.4,27.3,2.75,31.3,2.55,35.3,2.6],
    [10.9,1.62,11.9,1.35,12.9,1.75,13.9,1.6,14.9,1.85,15.9,2.05,16.9,1.95,17.9,2.25,19.9,2.2,23.9,2.65,27.9,3.1,31.9,2.8,35.9,2.45],
    [9.9,1.35,11,1.5,12,1.72,13,1.62,14,1.7,15,2,16,1.95,17,2.2,19,2.35,23,2.6,27,3.05,31,3.1,35,2.75],
    [20.6,2.2,22.6,2.6,24.6,2.75,26.6,2.3,28.6,2.9,30.6,3.2,32.6,2.4,34.6,3],
    [21.6,2.45,23.6,2.35,25.6,2.7,27.6,2.85,29.6,2.4,31.6,2.95,33.6,3.2,35.6,2.65],
    [22,2.2,24,2.75,26,2.25,28,2.6,30,2.95,32,2.5,34,2.7,36,2.5],
    [23,2.85,25,2.3,27,2.7,29,2.45,31,3.25,33,2.35,35,2.45,36.8,2.8],
    [24,2.2,26,2.65,28,3.2,30,2.4,32,2.75,34,2.3,36,2.6],
    [25,2.55,27,2.2,29,2.7,31,3.05,33,2.2,35,2.2,36.6,2.65],
    [11.2,1.45,12.6,1.72,14,1.58,15.4,1.95,16.8,1.9,18.2,2.32,19.6,2.2,21,2.62,22.4,2.42,23.8,2.85,25.2,2.55,26.6,2.85,28,2.65,29.4,3.05,30.8,2.7,32.2,3.05,33.6,2.6,35,2.95],
    [11.8,1.7,13.2,1.55,14.6,1.9,16,1.8,17.4,2.2,18.8,2.1,20.2,2.52,21.6,2.35,23,2.72,24.4,2.55,25.8,2.8,27.2,2.62,28.6,3,30,2.7,31.4,3,32.8,2.7,34.2,2.85,35.6,2.55],
    [12.4,1.5,13.8,1.82,15.2,1.72,16.6,2.12,18,2.02,19.4,2.4,20.8,2.35,22.2,2.55,23.6,2.75,25,2.62,26.4,3,27.8,2.8,29.2,2.6,30.6,2.85,32,2.72,33.4,2.9,34.8,2.7,36.2,2.85],
    [22.6,2.9,24,2.6,25.4,2.85,26.8,2.75,28.2,3.05,29.6,2.8,31,2.95,32.4,2.65,33.8,2.95,35.2,2.8,36.6,2.7],
    [23.4,2.55,24.8,2.75,26.2,2.95,27.6,3.1,29,2.65,30.4,2.55,31.8,2.9,33.2,2.75,34.6,2.6,36,2.85],
    [25.6,2.85,27,2.9,28.4,2.65,29.8,3,31.2,2.6,32.6,2.9,34,2.55,35.4,2.9,36.7,2.45]
];

const plgfPTL = [
    [8.5,0,13.1,1.25,16.6,1.85,20.6,2.3,25,2.5,29.6,2.55,34,2.2,36.8,1.97],
    [9.1,0,13.5,1.3,16.8,1.8,20.8,2.35,25.4,2.6,30,2.75,34.4,2.2,36.4,2.1],
    [9.3,0,13.8,1.45,17,1.95,21,2.45,25.8,2.7,30.4,2.55,34.6,2.1,36.6,2],
    [9.9,0,14,1.35,17.4,1.9,21.6,2.2,26,2.45,30.2,2.5,33.8,2.28,36,2.05],
    [10.2,0,14.2,1.5,17.6,1.85,21.8,2.5,26.2,2.55,30.6,2.65,35,2.35,36.8,2.3],
    [10.4,0,14.4,1.55,17.8,2.05,22,2.4,26.6,2.8,31,2.7,35.2,2.45],
    [9.9,0,13.2,1.2,16.4,1.7,20.2,2.25,24.6,2.3,29,2.4,33,2.3,35.5,1.87],
    [12.9,0,18.5,1.535,21,1.85,23.2,1.925,26,2.075,29.9,2.12,31,1.825],
    [8.8,1.465,12,1.55,15.2,1.85,19,2.3,23.6,2.55,27.8,2.7,31.4,2.6,35.6,2.3],
    [9.2,1.165,10,1.3,13.2,1.55,16.6,2.05,20.6,2.4,25,2.6,29.2,2.5,33.4,2.2],
    [9.9,1.13,10.4,1.4,13.8,1.65,17.2,2,21.2,2.3,25.6,2.35,29.4,2.2,31.6,2.06],
    [10,1.42,12.4,1.5,15.8,1.95,19.8,2.2,24,2.45,28.2,2.6,32.4,2.45,34.4,2.06],
    [10.7,1.58,13.6,1.62,17,1.95,21.4,2.55,25.2,2.7,29,2.85,33,2.4,36.2,2.54],
    [12.1,1.925,12.6,1.75,14.4,2.06,16.8,2.15,20.4,2.55,24.4,2.75,28.6,2.9,31,3.05,35,2.84],
    [11,1.5,14.4,1.75,17,2.5,19.6,2.65,22.4,3.02,27.8,3.455,31.4,3.2,34.2,2.93,36.6,2.69],
    [13.8,2.675,18.7,2.975,22,2.99,26.3,3,30.9,3.02,31,2.6,35,2.6,36.2,2.54],
    [11.6,1.45,15,1.98,19,2.55,22.2,3,22.6,3.01,26.3,3.08,28.6,3.235,31.4,3.1,35,2.84,36.6,2.6],
    [11.2,1.4,14.6,1.85,18.4,2.2,19.1,1.81,23.2,2.18,27.2,2.2,30.1,1.745,30.9,1.66],
    [11.8,1.6,15.4,1.9,18.2,1.85,22.6,2.05,26,2.3,29.2,2.15,32,2.05,33.4,1.985],
    [12.4,1.45,15.6,1.82,19.2,2.05,23,2.2,27.4,2.25,30.3,1.94,31.4,2.1],
    [12.8,1.5,16.2,1.88,20,2.12,24.2,2.3,27.8,2.35,31,2.15,34.6,2,36.8,1.95],
    [13.2,1.6,16.8,2.08,20.8,2.5,24.8,2.85,28.4,3,31.2,2.95,34.6,2.82,36.4,2.55],
    [13.6,1.7,17.2,2.2,21,2.6,25,2.8,28.8,2.95,31,2.9,33.6,2.6,36,2.4],
    [14,1.55,17.6,2.1,21.6,2.4,25.6,2.5,29.4,2.78,32.4,2.7,36.8,2.3],
    [14.4,1.8,18,2.3,21.8,2.62,26,2.85,29.8,2.82,31.8,2.75,35.4,2.55],
    [12,1.35,15,1.7,18.6,2.12,22.4,2.32,26.4,2.62,30,2.5,34.2,2.2,36.2,2.25],
    [13.4,1.55,16,1.75,19.4,2.2,23.4,2.6,27,2.72,30.6,2.9,34,2.5,36.6,2.15],
    [15,2.05,18.8,2.5,22.8,2.75,26.8,2.85,30.4,2.88,33,2.6,36.4,2.35],
    [15.4,1.95,19.2,2.42,23,2.55,27,2.65,30.8,2.48,34.4,2.3,36.8,2],
    [15.8,1.88,19.6,2.35,23.6,2.45,27.6,2.6,31.2,2.4,35,2.28,36.7,2.02],
    [16.4,2.1,20.2,2.65,24,2.5,27.4,2.5,30.4,2.6,33.6,2.2,36.2,2.08],
    [16.8,2.2,20.4,2.35,24.4,2.65,28,2.75,31.6,2.62,35.2,2.38],
    [17.4,2.3,20.8,2.62,24.6,2.72,28.2,2.92,31,2.85,34,2.85,36.6,2.3],
    [18,2.05,21.2,2.2,25,2.35,27,2.35,28.8,2.2,31,1.95],
    [18.4,1.9,21.6,2.05,24.8,2.15,26.4,2.25,29.2,2.1,31.2,1.9],
    [13,1.4,16.6,1.95,20.6,2.38,24.2,2.55,28,2.55,31.4,2.52,35.4,2.2],
    [14.2,1.65,17.8,2.12,21.4,2.48,25.2,2.62,29,2.68,32.6,2.42,36,2.15],
    [15.2,1.8,18.4,2.3,22.2,2.58,25.8,2.58,29.6,2.62,33.2,2.48,35.8,2.28],
    [16,1.95,19,2.45,22.6,2.7,26.4,2.75,30,2.7,33.8,2.5,36.8,2.3],
    [12.2,1.55,15.6,2,19.8,2.48,23.8,2.68,27.6,2.8,31.2,2.72,34.8,2.45],
    [11.4,1.5,14.8,1.92,18.6,2.3,22,2.45,26.8,2.55,29.8,2.4,33,2.05,36.4,2.02],
    [17,2.5,19.4,2.55,22.4,2.85,26.2,2.92,28.2,2.88,30.8,2.92,31.4,2.7,36.2,2.3],
    [20,2.1,23.4,2.35,26.6,2.2,29,2.05,31.2,1.85]
];

const xTickValues = [10, 15, 20, 25, 30, 35];
const sVegfrTicks = [3.0, 3.5, 4.0];
const plgfTicks = [0, 1, 2, 3];

const panels = [
    {title: "sVEGFR1 Group=Control", subjects: sVegfrControl, ticks: sVegfrTicks, fmt: ".1f", col: 0, row: 0, lineW: 1.4},
    {title: "sVEGFR1 Group=PTL", subjects: sVegfrPTL, ticks: sVegfrTicks, fmt: ".1f", col: 1, row: 0, lineW: 1},
    {title: "PIGF Group=Control", subjects: plgfControl, ticks: plgfTicks, fmt: "d", col: 0, row: 1, lineW: 1.4},
    {title: "PIGF Group=PTL", subjects: plgfPTL, ticks: plgfTicks, fmt: "d", col: 1, row: 1, lineW: 1}
];

const svg = d3.select("#chart").append("svg")
    .attr("width", 755)
    .attr("height", 749)
    .style("display", "block");

// the reference is a soft, resampled image
svg.append("defs").append("filter")
    .attr("id", "soft")
    .attr("filterUnits", "userSpaceOnUse")
    .attr("x", 0).attr("y", 0).attr("width", 755).attr("height", 749)
    .append("feGaussianBlur")
    .attr("stdDeviation", 0.5);

const root = svg.append("g").attr("filter", "url(#soft)");

const boxW = 293;
const colX = [84, 472.7];
const rows = [
    {top: 55, h: 228, domain: [2.522, 4.233], title: 18, tick: 311, ga: 348, label: 169},
    {top: 443.3, h: 229, domain: [-0.167, 3.954], title: 405, tick: 699, ga: 736, label: 552}
];

panels.forEach(p => {
    const r = rows[p.row];
    const left = colX[p.col];

    const x = d3.scaleLinear().domain([5.41, 38.22]).range([left, left + boxW]);
    const y = d3.scaleLinear().domain(r.domain).range([r.top + r.h, r.top]);

    const g = root.append("g");

    // one polyline plus open circles for each subject
    const line = d3.line().x(d => x(d[0])).y(d => y(d[1]));
    p.subjects.forEach(s => {
        const pts = d3.pairs(s).filter((d, i) => i % 2 === 0);
        g.append("path")
            .attr("d", line(pts))
            .attr("fill", "none")
            .attr("stroke", "#111")
            .attr("stroke-width", p.lineW);
        g.selectAll(null)
            .data(pts)
            .enter()
            .append("circle")
            .attr("cx", d => x(d[0]))
            .attr("cy", d => y(d[1]))
            .attr("r", 3.8)
            .attr("fill", "none")
            .attr("stroke", "#333")
            .attr("stroke-width", 1);
    });

    g.append("rect")
        .attr("x", left)
        .attr("y", r.top)
        .attr("width", boxW)
        .attr("height", r.h)
        .attr("fill", "none")
        .attr("stroke", "#111")
        .attr("stroke-width", 1.4);

    const xAxis = d3.axisBottom(x).tickValues(xTickValues).tickSize(7).tickSizeOuter(0);
    const yAxis = d3.axisLeft(y).tickValues(p.ticks).tickSize(7).tickSizeOuter(0).tickFormat(d3.format(p.fmt));

    const gx = g.append("g")
        .attr("transform", `translate(0, ${r.top + r.h})`)
        .call(xAxis);
    gx.select(".domain").remove();
    gx.selectAll("line").attr("stroke", "#333");
    gx.selectAll("text")
        .attr("dy", null)
        .attr("y", r.tick - (r.top + r.h) + 5.4)
        .style("font-size", "15px");

    const gy = g.append("g")
        .attr("transform", `translate(${left}, 0)`)
        .call(yAxis);
    gy.select(".domain").remove();
    gy.selectAll("line").attr("stroke", "#333");
    gy.selectAll("text")
        .attr("x", null)
        .attr("dy", null)
        .attr("text-anchor", "middle")
        .attr("transform", `translate(${-27 + 5.4}, 0) rotate(-90)`)
        .style("font-size", "15px");

    root.append("text")
        .attr("x", left + 146)
        .attr("y", r.title + 6.6)
        .attr("text-anchor", "middle")
        .style("font-size", "18.5px")
        .style("font-weight", "bold")
        .text(p.title);

    root.append("text")
        .attr("x", left + 146)
        .attr("y", r.ga + 5.4)
        .attr("text-anchor", "middle")
        .style("font-size", "15px")
        .text("GA");

    root.append("text")
        .attr("transform", `translate(${left - 64 + 5.4}, ${r.label}) rotate(-90)`)
        .attr("text-anchor", "middle")
        .style("font-size", "15px")
        .text("log10(Conc+1)");
});
</script>
</body>
</html>
